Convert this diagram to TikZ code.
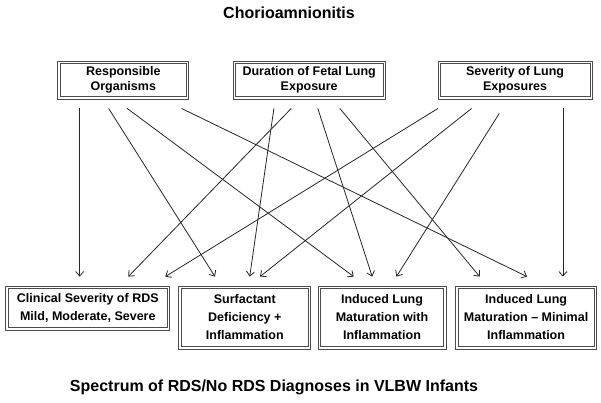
\documentclass[tikz,border=0pt]{standalone}
\usepackage{fontspec}
\setmainfont{Liberation Sans}
\usepackage{tikz}
\usetikzlibrary{arrows.meta}

\begin{document}
\begin{tikzpicture}[x=1pt,y=-1pt,>={Straight Barb[length=4.5pt,width=8pt]},
    dbox/.style={draw=black!70,line width=0.8pt,align=center,inner sep=0pt,font=\fontsize{12.5}{14.5}\selectfont\bfseries},
    tall/.style={font=\fontsize{12.5}{18}\selectfont\bfseries},
    arr/.style={->,black!85,line width=0.8pt},
    title/.style={font=\fontsize{16}{18}\selectfont\bfseries}]
    \useasboundingbox (0,0) rectangle (601,402);

    \node[title] (chorio) at (289,13) {Chorioamnionitis};

    \node[dbox,minimum width=131pt,minimum height=38pt] (ro) at (123.3,80) {Responsible\\Organisms};
    \node[dbox,minimum width=152pt,minimum height=38pt] (dfl) at (309.2,80) {Duration of Fetal Lung\\Exposure};
    \node[dbox,minimum width=154pt,minimum height=38pt] (sle) at (515.1,80) {Severity of Lung\\Exposures};

    \node[dbox,tall,minimum width=164pt,minimum height=44pt] (cs) at (87.8,308) {Clinical Severity of RDS\\Mild, Moderate, Severe};
    \node[dbox,tall,minimum width=132pt,minimum height=63pt] (sdi) at (244.8,317.5) {Surfactant\\Deficiency +\\Inflammation};
    \node[dbox,tall,minimum width=128pt,minimum height=63pt] (ilm) at (382,317.5) {Induced Lung\\Maturation with\\Inflammation};
    \node[dbox,tall,minimum width=140.6pt,minimum height=63pt] (imi) at (526.1,317.5) {Induced Lung\\Maturation -- Minimal\\Inflammation};

    % inner frame of each box
    \foreach \b in {ro,dfl,sle,cs,sdi,imi,ilm}
        \draw[black!70,line width=0.8pt] ([shift={(2.6,2.6)}]\b.north west) rectangle ([shift={(-2.6,-2.6)}]\b.south east);

    \node[title] (spectrum) at (274,387) {Spectrum of RDS/No RDS Diagnoses in VLBW Infants};

    \path[arr]
        ([shift={(-43.6,9)}]ro.south) edge ([shift={(-8.1,-9)}]cs.north)
        ([shift={(-14.7,9)}]ro.south) edge ([shift={(-29.8,-9)}]sdi.north)
        ([shift={(3.8,9)}]ro.south) edge ([shift={(-28.3,-9)}]ilm.north)
        ([shift={(58.2,9)}]ro.south) edge ([shift={(0.9,-9)}]imi.north)

        ([shift={(-35.3,9)}]dfl.south) edge ([shift={(4.9,-9)}]sdi.north)
        ([shift={(-17.9,9)}]dfl.south) edge ([shift={(40.5,-9)}]cs.north)
        ([shift={(8.6,9)}]dfl.south) edge ([shift={(-9.8,-9)}]ilm.north)
        ([shift={(30.6,9)}]dfl.south) edge ([shift={(-46.4,-9)}]imi.north)

        ([shift={(-77.1,9)}]sle.south) edge ([shift={(77.5,-9)}]cs.north)
        ([shift={(-43.5,9)}]sle.south) edge ([shift={(15.2,-9)}]sdi.north)
        ([shift={(-15.8,14)}]sle.south) edge ([shift={(14.4,-9)}]ilm.north)
        ([shift={(47.8,9)}]sle.south) edge ([shift={(36.8,-9)}]imi.north)
    ;
\end{tikzpicture}
\end{document}
